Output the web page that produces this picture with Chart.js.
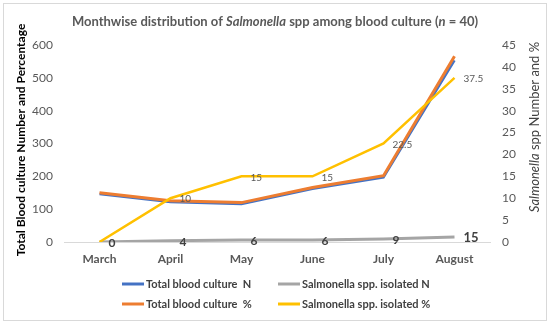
<!DOCTYPE html>
<html>
<head>
<meta charset="utf-8">
<script src="https://cdn.jsdelivr.net/npm/chart.js@4.4.0/dist/chart.umd.min.js"></script>
<style>
  html, body { margin: 0; padding: 0; background: #fff; }
  #wrap { width: 550px; height: 325px; position: relative; }
</style>
</head>
<body>
<div id="wrap"><canvas id="chart" width="550" height="325"></canvas></div>
<script>
const months = ["March", "April", "May", "June", "July", "August"];
const totalN = [146, 122, 116, 162, 197, 553];
const totalPct = [150, 126, 120, 166, 202, 566];
const salmN = [0, 4, 6, 6, 9, 15];
const salmPct = [0, 10, 15, 15, 22.5, 37.5];
const leftTicks = [0, 100, 200, 300, 400, 500, 600];
const rightTicks = [0, 5, 10, 15, 20, 25, 30, 35, 40, 45];

const FONT = "Lato, 'Open Sans', sans-serif";

// draw a run of text pieces with their own styles, centred on x
function drawRuns(ctx, runs, x, y) {
  let total = 0;
  runs.forEach(r => { ctx.font = r.font; total += ctx.measureText(r.text).width; });
  let cx = x - total / 2;
  ctx.textAlign = "left";
  runs.forEach(r => {
    ctx.font = r.font;
    ctx.fillText(r.text, cx, y);
    cx += ctx.measureText(r.text).width;
  });
}

const extras = {
  id: "extras",
  afterDraw(chart) {
    const ctx = chart.ctx;
    ctx.save();

    // frame
    ctx.strokeStyle = "#d9d9d9";
    ctx.lineWidth = 1;
    ctx.strokeRect(3.5, 3.5, 543, 317);

    // title
    ctx.fillStyle = "#595959";
    ctx.textBaseline = "middle";
    drawRuns(ctx, [
      { text: "Monthwise distribution of ", font: "bold 13px " + FONT },
      { text: "Salmonella", font: "italic bold 13px " + FONT },
      { text: " spp among blood culture (", font: "bold 13px " + FONT },
      { text: "n", font: "italic bold 13px " + FONT },
      { text: " = 40)", font: "bold 13px " + FONT }
    ], 275, 22);

    // left axis title
    ctx.save();
    ctx.translate(21, 140);
    ctx.rotate(-Math.PI / 2);
    ctx.fillStyle = "#000";
    drawRuns(ctx, [{ text: "Total Blood culture Number and Percentage", font: "bold 12px " + FONT }], 0, 0);
    ctx.restore();

    // right axis title
    ctx.save();
    ctx.translate(535, 127);
    ctx.rotate(-Math.PI / 2);
    ctx.fillStyle = "#404040";
    drawRuns(ctx, [
      { text: "Salmonella", font: "italic 13px " + FONT },
      { text: " spp Number and %", font: "13px " + FONT }
    ], 0, 0);
    ctx.restore();

    // data labels
    const gray = chart.getDatasetMeta(2);
    ctx.textAlign = "left";
    ctx.textBaseline = "middle";
    gray.data.forEach((pt, i) => {
      ctx.fillStyle = "#404040";
      ctx.font = (i === salmN.length - 1 ? "bold 13px " : "bold 12px ") + FONT;
      ctx.fillText(String(salmN[i]), pt.x + 9, pt.y + 1);
    });
    const yel = chart.getDatasetMeta(3);
    yel.data.forEach((pt, i) => {
      if (i === 0) return;
      ctx.fillStyle = "#595959";
      ctx.font = "10px " + FONT;
      ctx.fillText(String(salmPct[i]), pt.x + 9, pt.y + 1);
    });

    // legend
    const slots = [[122, 284], [122, 304], [278, 284], [278, 304]];
    chart.data.datasets.forEach((ds, i) => {
      const [lx, ly] = slots[i];
      ctx.strokeStyle = ds.borderColor;
      ctx.lineWidth = 3;
      ctx.beginPath();
      ctx.moveTo(lx, ly);
      ctx.lineTo(lx + 22, ly);
      ctx.stroke();
      ctx.fillStyle = "#404040";
      ctx.font = "bold 11px " + FONT;
      ctx.fillText(ds.label, lx + 24, ly);
    });

    ctx.restore();
  }
};

new Chart(document.getElementById("chart"), {
  type: "line",
  data: {
    labels: months,
    datasets: [
      { label: "Total blood culture  N", data: totalN, borderColor: "#4472C4", borderWidth: 2.5, yAxisID: "y", order: 2 },
      { label: "Total blood culture  %", data: totalPct, borderColor: "#ED7D31", borderWidth: 3, yAxisID: "y", order: 1 },
      { label: "Salmonella spp. isolated N", data: salmN, borderColor: "#A5A5A5", borderWidth: 3, yAxisID: "y", order: 3 },
      { label: "Salmonella spp. isolated %", data: salmPct, borderColor: "#FFC000", borderWidth: 2.5, yAxisID: "y1", order: 0 }
    ]
  },
  options: {
    responsive: false,
    animation: false,
    layout: { padding: { top: 45, bottom: 0, left: 0, right: 0 } },
    elements: { point: { radius: 0 }, line: { tension: 0 } },
    plugins: { legend: { display: false }, tooltip: { enabled: false } },
    scales: {
      x: {
        offset: true,
        grid: { display: false, drawTicks: false },
        border: { display: true, color: "#d9d9d9", width: 1 },
        ticks: { color: "#595959", font: { family: FONT, size: 12, weight: "bold" }, padding: 10, maxRotation: 0 },
        afterFit(s) { s.height = 83; }
      },
      y: {
        position: "left",
        min: 0, max: 600,
        afterBuildTicks(s) { s.ticks = leftTicks.map(v => ({ value: v })); },
        grid: { display: false, drawTicks: false },
        border: { display: false },
        ticks: { color: "#595959", font: { family: FONT, size: 12 }, padding: 11 },
        afterFit(s) { s.width = 64; }
      },
      y1: {
        position: "right",
        min: 0, max: 45,
        afterBuildTicks(s) { s.ticks = rightTicks.map(v => ({ value: v })); },
        grid: { display: false, drawTicks: false },
        border: { display: false },
        ticks: { color: "#595959", font: { family: FONT, size: 12 }, padding: 12 },
        afterFit(s) { s.width = 60; }
      }
    }
  },
  plugins: [extras]
});
</script>
</body>
</html>
